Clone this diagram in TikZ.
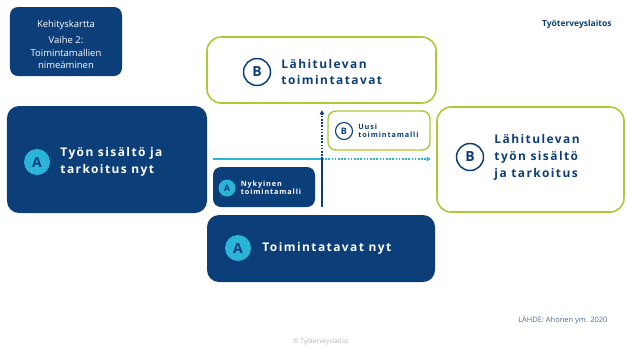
\documentclass[tikz,border=0pt]{standalone}
\usepackage{fontspec}
\setmainfont{Open Sans}
\newfontfamily\spaced[LetterSpace=12]{Open Sans}
\usetikzlibrary{positioning,arrows.meta}

\definecolor{ttlnavy}{RGB}{12,62,122}
\definecolor{ttlcyan}{RGB}{42,180,216}
\definecolor{ttlgreen}{RGB}{172,202,52}

\begin{document}
\begin{tikzpicture}[x=1bp, y=-1bp,
  navybox/.style={rectangle, fill=ttlnavy, rounded corners=12bp, inner sep=0pt},
  greenbox/.style={rectangle, draw=ttlgreen, line width=1.6bp, fill=white, rounded corners=14bp, inner sep=0pt},
  badgeA/.style={circle, fill=ttlcyan, text=ttlnavy, inner sep=0pt, font=\bfseries},
  badgeB/.style={circle, draw=ttlnavy, line width=1.5bp, fill=white, text=ttlnavy, inner sep=0pt, font=\bfseries},
  boxtext/.style={anchor=west, align=left, inner sep=0pt, font=\spaced\bfseries\fontsize{12}{17}\selectfont},
  smalltext/.style={anchor=west, align=left, inner sep=0pt, font=\spaced\bfseries\fontsize{7.3}{8.5}\selectfont},
  tip/.style={-{Triangle[length=4bp,width=4.5bp]}},
]
  \useasboundingbox (0,0) rectangle (627,347);

  % stage label
  \node[navybox, rounded corners=8bp, minimum width=112bp, minimum height=69bp] (stage) at (66,41.5) {};
  \node[text=white, align=center, font=\fontsize{9.5}{12.5}\selectfont] at ([yshift=-3bp]stage.center) {Kehityskartta\\[4bp]Vaihe 2:\\Toimintamallien\\nimeäminen};
  \node[anchor=east, text=ttlnavy, font=\bfseries\fontsize{8.5}{10}\selectfont] (brand) at (615,24) {Työterveyslaitos};

  % future (B) boxes
  \node[greenbox, minimum width=229bp, minimum height=66bp] (nextways) at (321.5,70) {};
  \node[greenbox, minimum width=187bp, minimum height=105bp] (nextwork) at (530.5,159.5) {};
  \node[greenbox, line width=1.4bp, rounded corners=8bp, minimum width=102bp, minimum height=39bp] (newmodel) at (379,130.5) {};

  % current (A) boxes
  \node[navybox, minimum width=200bp, minimum height=107bp] (nowwork) at (107,159.5) {};
  \node[navybox, minimum width=228bp, minimum height=67bp] (nowways) at (321,248.5) {};
  \node[navybox, rounded corners=8bp, minimum width=102bp, minimum height=40bp] (nowmodel) at (264,187) {};

  % badges and texts
  \node[badgeA, minimum size=26bp, font=\bfseries\fontsize{14}{14}\selectfont] (aWork) at (37,162) {A};
  \node[boxtext, text=white, right=10bp of aWork] (tWork) {Työn sisältö ja\\tarkoitus nyt};
  \node[badgeA, minimum size=26bp, font=\bfseries\fontsize{14}{14}\selectfont] (aWays) at (238,248) {A};
  \node[boxtext, text=white, right=11bp of aWays] (tWays) {Toimintatavat nyt};
  \node[badgeA, minimum size=17bp, font=\bfseries\fontsize{9}{9}\selectfont] (aModel) at (227,188) {A};
  \node[smalltext, text=white, right=5bp of aModel] (tModel) {Nykyinen\\toimintamalli};

  \node[badgeB, minimum size=27bp, font=\bfseries\fontsize{14}{14}\selectfont] (bWays) at (257,72) {B};
  \node[boxtext, text=ttlnavy, right=10bp of bWays] (tNextWays) {Lähitulevan\\toimintatavat};
  \node[badgeB, minimum size=27bp, font=\bfseries\fontsize{14}{14}\selectfont] (bWork) at (470,157) {B};
  \node[boxtext, text=ttlnavy, right=10bp of bWork] (tNextWork) {Lähitulevan\\työn sisältö\\ja tarkoitus};
  \node[badgeB, line width=1.1bp, minimum size=17bp, font=\bfseries\fontsize{9}{9}\selectfont] (bModel) at (344,131) {B};
  \node[smalltext, text=ttlnavy, right=5bp of bModel] (tNewModel) {Uusi\\toimintamalli};

  % axes through the crossing point
  \coordinate (cross) at (322,159);
  \draw[ttlcyan, line width=1.6bp] (nowmodel.west |- cross) -- (cross);
  \draw[ttlcyan, line width=1.6bp, dash pattern=on 1.6bp off 1.6bp, tip] (cross) -- (newmodel.east |- cross);
  \draw[ttlnavy, line width=1.6bp] (cross) -- (cross |- nowmodel.south);
  \draw[ttlnavy, line width=1.6bp, dash pattern=on 1.6bp off 1.6bp, tip] (cross) -- (cross |- newmodel.north);

  % sources
  \node[anchor=east, text=ttlnavy!75, font=\fontsize{7.5}{8}\selectfont] (source) at (611,320) {LÄHDE: Ahonen ym. 2020};
  \node[text=black!30, font=\fontsize{6.5}{7}\selectfont] (footer) at (321,342) {© Työterveyslaitos};
\end{tikzpicture}
\end{document}
